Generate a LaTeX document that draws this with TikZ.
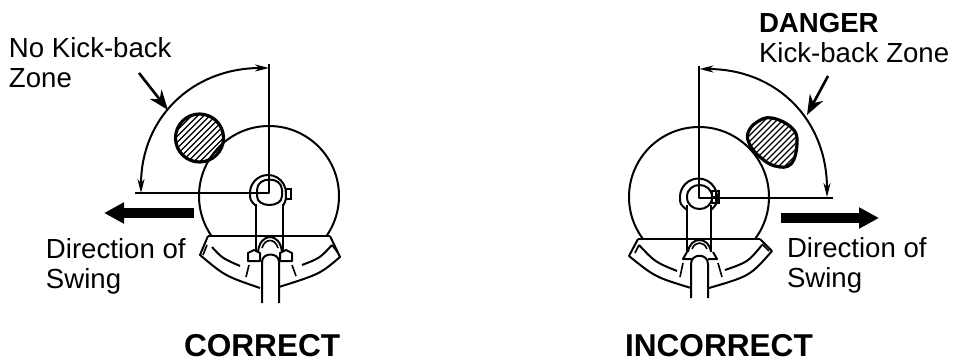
\documentclass[tikz,border=0pt]{standalone}
\usepackage{fontspec}
\setmainfont{Liberation Sans}
\usepackage{tikz}
\usetikzlibrary{arrows.meta,positioning,calc}

\begin{document}
\begin{tikzpicture}[
  x=0.5pt, y=-0.5pt,
  every node/.style={inner sep=0pt, outer sep=0pt},
  lbl/.style={anchor=north west, align=left, font=\fontsize{13.8}{15}\selectfont},
  verdict/.style={anchor=base west, font=\fontsize{15.8}{18}\selectfont\bfseries},
  outline/.style={line width=1pt, line join=round},
  fine/.style={line width=0.8pt},
  blob/.style={line width=1.6pt},
  sweep/.style={line width=1pt, {Stealth[length=7pt,width=3.5pt]}-{Stealth[length=7pt,width=3.5pt]}},
  pointer/.style={line width=1.3pt, -{Stealth[length=10pt,width=7.5pt]}},
  swing/.style={line width=5pt, -{Triangle[length=10pt,width=10pt]}},
]
\useasboundingbox (0,0) rectangle (954,359);

%% Labels
\node[lbl] (nokick) at (9,37) {No Kick-back\\Zone};
\node[lbl] (danger) at (759,13) {\textbf{DANGER}\\Kick-back Zone};
\node[lbl] (dirleft) at (46,238) {Direction of\\Swing};
\node[lbl] (dirright) at (787,237) {Direction of\\Swing};
\node[verdict] (correct) at (184,356) {CORRECT};
\node[verdict] (incorrect) at (625,356) {INCORRECT};

%% Big disc and guard top: centre x, centre y, guard top y
\foreach \cx/\cy/\gy in {269/196/236, 699/197/239}{
  \begin{scope}
    \clip (\cx-80,100) rectangle (\cx+80,\gy);
    \draw[outline] (\cx,\cy) circle (70);
  \end{scope}
  \draw[outline] (\cx-61,\gy) -- (\cx+61,\gy);
}

%% Left head
\draw[outline] (256,204) -- (256,252) (283,204) -- (283,252);
\draw[outline] (250,193) arc[start angle=180, end angle=365, radius=18];
\draw[outline] (250,193) .. controls (250,200) .. (256,206);
\draw[outline] (286,194) .. controls (286,200) .. (283,206);
\draw[outline] (257,190) .. controls (257,176) and (282,176) .. (282,190)
  -- (282,196) .. controls (282,208) and (257,208) .. (257,196) -- cycle;
\draw[fine] (286,189) rectangle (291,199);
\draw[outline] (258,252) .. controls (260,232) and (280,232) .. (282,252);
\draw[fine] (262,248) .. controls (265,238) and (275,238) .. (278,248);
\draw[outline] (262,303) -- (262,262) .. controls (262,252) and (279,252) .. (279,262) -- (279,303);
\draw[outline] (248,261) -- (248,253) -- (254,250) -- (260,253) -- (260,261) -- cycle;
\draw[outline] (280,261) -- (280,253) -- (286,250) -- (292,253) -- (292,261) -- cycle;
\fill[white] (254,256) circle (2.5) (286,256) circle (2.5);
\draw[outline] (208,236) -- (200,255) .. controls (225,276) .. (260,288);
\draw[outline] (330,236) -- (340,257) .. controls (320,274) .. (279,287);
\draw[fine] (207,245) -- (203,255) (332,245) -- (338,253);
\draw[outline] (212,247) .. controls (222,258) .. (240,266);
\draw[outline] (332,245) .. controls (320,258) .. (302,265);
\draw[fine] (249,265) -- (246,277) (292,265) -- (296,276);

%% Right head
\draw[outline] (687,205) -- (687,252) (711,205) -- (711,252);
\draw[outline] (680,197) arc[start angle=180, end angle=370, radius=18.5];
\draw[outline] (680,197) .. controls (680,204) .. (687,210);
\draw[outline] (717,200) .. controls (716,205) .. (711,210);
\draw[outline] (687,197) .. controls (687,181) and (712,181) .. (712,197)
  .. controls (712,213) and (687,213) .. (687,197) -- cycle;
\draw[fine] (712,191) rectangle (719,203) (712,197) -- (719,197) (716,191) -- (716,203);
\draw[outline] (688,252) .. controls (690,236) and (709,236) .. (711,252);
\draw[fine] (692,249) .. controls (695,241) and (704,241) .. (707,249);
\draw[outline] (691,298) -- (691,264) .. controls (691,253) and (708,253) .. (708,264) -- (708,298);
\draw[outline] (692,259) -- (683,259) -- (687,252);
\draw[outline] (708,259) -- (717,259) -- (713,252);
\draw[outline] (638,239) -- (629,256) .. controls (655,277) .. (691,288);
\draw[outline] (760,239) -- (772,251) .. controls (750,276) .. (709,288);
\draw[fine] (639,245) -- (635,253) (762,244) -- (769,251);
\draw[outline] (639,245) .. controls (655,262) .. (677,271);
\draw[outline] (762,245) .. controls (748,262) .. (725,270);
\draw[fine] (683,263) -- (680,277) (718,263) -- (722,277);

%% Hatched blobs
\begin{scope}
  \clip (199.5,138) circle (24);
  \foreach \d in {-54,-48,...,54}{
    \draw[line width=0.55pt] (199.5+\d-40,178) -- (199.5+\d+40,98);
  }
\end{scope}
\draw[blob] (199.5,138) circle (24);

\def\dangerblob{plot[smooth cycle, tension=0.7] coordinates {(748,133) (757,122) (772,118) (792,128) (797,143) (791,164) (775,166) (760,157) (750,145)}}
\begin{scope}
  \clip \dangerblob;
  \foreach \d in {-54,-48,...,54}{
    \draw[line width=0.55pt] (772+\d-40,183) -- (772+\d+40,103);
  }
\end{scope}
\draw[blob] \dangerblob;

%% Reference lines, sweep arcs
\coordinate (leftcentre) at (269,193);
\coordinate (rightcentre) at (699,197.5);
\draw[outline] (269,64) -- (leftcentre) -- (135,193);
\draw[outline] (699,66) -- (rightcentre) -- (833,197.5);
\draw[sweep] (141,193) .. controls (141,118) and (192,68) .. (269,68);
\draw[sweep] (699.5,69) .. controls (777,69) and (827,120) .. (827,197);

%% Pointers to the arcs
\coordinate (nokicktail) at (139,73);
\coordinate (nokicktip) at (168,110);
\coordinate (dangertail) at (828,76);
\coordinate (dangertip) at (807,115);
\draw[pointer] (nokicktail) -- (nokicktip);
\draw[pointer] (dangertail) -- (dangertip);

%% Swing arrows
\coordinate (swingleftstart) at (194,213);
\coordinate (swingleftend) at (104,213);
\coordinate (swingrightstart) at (781,218);
\coordinate (swingrightend) at (879,218);
\draw[swing] (swingleftstart) -- (swingleftend);
\draw[swing] (swingrightstart) -- (swingrightend);

\end{tikzpicture}
\end{document}
